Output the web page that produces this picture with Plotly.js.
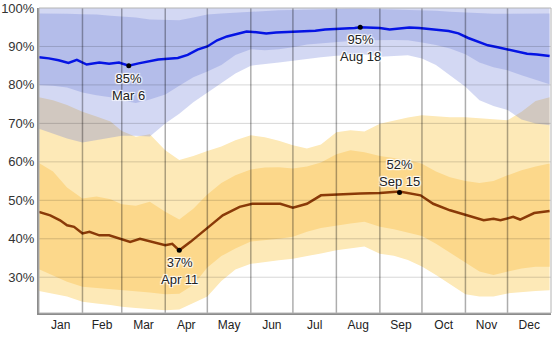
<!DOCTYPE html>
<html><head><meta charset="utf-8">
<script src="https://cdn.plot.ly/plotly-3.0.1.min.js"></script>
<style>html,body{margin:0;padding:0;background:#fff}#chart{width:555px;height:347px}</style>
</head><body><div id="chart"></div>
<script>
// ---- data (relative humidity, %) ----
const bandDates = ['2013-01-01','2013-01-11','2013-01-21','2013-02-01','2013-02-11','2013-02-21','2013-03-01','2013-03-11','2013-03-21','2013-04-01','2013-04-11','2013-04-21','2013-05-01','2013-05-11','2013-05-21','2013-06-01','2013-06-11','2013-06-21','2013-07-01','2013-07-11','2013-07-21','2013-08-01','2013-08-11','2013-08-21','2013-09-01','2013-09-11','2013-09-21','2013-10-01','2013-10-11','2013-10-21','2013-11-01','2013-11-11','2013-11-21','2013-12-01','2013-12-11','2013-12-21','2013-12-31'];

// daily high humidity percentiles
const highP90 = [100,100,100,100,100,100,100,100,100,100,100,100,100,100,100,100,100,100,100,100,100,100,100,100,100,100,100,100,100,100,100,100,100,100,100,100,100];
const highP75 = [98.6,98.6,98.5,98.4,98.3,98.0,97.8,97.5,97.0,96.8,96.8,97.5,98.3,98.6,98.8,99.2,99.3,99.4,99.5,99.6,99.7,99.8,99.8,99.8,99.7,99.7,99.6,99.5,99.3,99.0,98.8,98.6,98.5,98.5,98.5,98.6,98.6];
const highP25 = [80.0,79.8,79.3,78.0,77.3,76.8,76.0,75.3,76.2,77.5,79.8,82.0,83.5,85.2,87.8,89.3,89.0,89.3,89.8,90.5,90.8,91.1,91.4,91.6,91.7,91.7,91.6,91.0,90.4,89.5,88.0,85.8,84.6,83.8,82.5,81.3,80.2];
const highP10 = [68.6,67.3,66.1,65.0,65.5,66.3,66.8,66.8,66.6,70.0,72.5,75.5,77.8,80.5,83.0,85.0,85.4,85.8,86.3,86.8,87.2,87.6,87.8,87.9,87.3,87.5,87.7,86.9,85.2,82.5,79.5,76.0,74.5,73.5,71.0,70.0,69.5];

// daily low humidity percentiles
const lowP90 = [76.8,76.0,74.8,73.0,71.8,70.5,68.0,66.5,67.2,63.0,60.5,61.5,62.8,64.0,65.6,66.9,66.4,65.5,64.3,63.5,64.5,67.7,68.2,67.9,69.9,70.8,71.5,72.1,71.8,71.6,71.6,71.3,71.0,70.8,73.0,75.8,76.8];
const lowP75 = [59.7,57.5,53.3,50.5,51.0,50.3,49.0,48.6,49.6,47.0,45.0,47.8,51.5,54.5,56.5,58.0,58.5,58.6,58.3,58.8,59.8,62.0,63.0,62.5,61.5,61.0,60.5,59.5,57.5,56.0,55.0,54.5,55.0,56.5,57.8,58.8,59.6];
const lowP25 = [32.1,30.5,28.8,27.5,27.1,26.9,26.6,26.3,26.0,25.6,25.7,28.0,32.5,35.5,37.5,39.3,39.7,40.0,40.5,41.8,42.8,43.5,44.0,44.4,43.1,42.5,41.7,40.7,38.7,36.5,33.8,31.5,30.6,31.5,32.3,32.7,32.7];
const lowP10 = [26.4,25.6,25.0,23.6,23.2,22.8,22.3,22.0,21.8,21.4,21.6,23.2,25.0,29.0,32.0,33.5,34.0,34.4,34.8,35.5,36.2,37.0,37.5,38.0,36.1,35.6,34.5,32.8,30.6,28.3,25.6,25.0,25.0,25.8,26.1,26.4,26.6];

// median daily high humidity
const highDates = ['2013-01-01','2013-01-08','2013-01-15','2013-01-22','2013-01-28','2013-02-04','2013-02-13','2013-02-20','2013-02-27','2013-03-06','2013-03-13','2013-03-20','2013-03-27','2013-04-03','2013-04-10','2013-04-17','2013-04-24','2013-05-01','2013-05-08','2013-05-15','2013-05-22','2013-05-29','2013-06-05','2013-06-12','2013-06-19','2013-06-26','2013-07-03','2013-07-10','2013-07-17','2013-07-24','2013-07-31','2013-08-07','2013-08-14','2013-08-18','2013-08-25','2013-09-01','2013-09-08','2013-09-15','2013-09-22','2013-09-29','2013-10-06','2013-10-13','2013-10-20','2013-10-27','2013-11-03','2013-11-10','2013-11-17','2013-11-24','2013-12-01','2013-12-08','2013-12-15','2013-12-22','2013-12-31'];
const highMedian = [87.2,86.9,86.4,85.7,86.5,85.3,85.8,85.5,85.8,85.0,85.6,86.2,86.6,86.8,87.0,87.8,89.2,90.0,91.6,92.6,93.3,93.9,93.7,93.4,93.6,93.7,93.8,94.0,94.1,94.4,94.5,94.7,94.8,95.0,94.9,94.8,94.4,94.6,94.9,94.8,94.6,94.3,94.0,93.4,92.2,91.2,90.3,89.8,89.2,88.6,88.1,87.9,87.5];

// median daily low humidity
const lowDates = ['2013-01-01','2013-01-09','2013-01-16','2013-01-21','2013-01-26','2013-02-01','2013-02-06','2013-02-13','2013-02-20','2013-02-28','2013-03-07','2013-03-14','2013-03-21','2013-04-01','2013-04-06','2013-04-11','2013-04-19','2013-04-26','2013-05-05','2013-05-12','2013-05-24','2013-06-02','2013-06-12','2013-06-22','2013-07-01','2013-07-11','2013-07-21','2013-08-04','2013-08-18','2013-09-01','2013-09-15','2013-09-30','2013-10-09','2013-10-21','2013-11-02','2013-11-14','2013-11-21','2013-11-26','2013-12-05','2013-12-10','2013-12-20','2013-12-31'];
const lowMedian = [47.0,46.1,44.8,43.5,43.1,41.4,41.8,40.9,40.9,40.0,39.2,40.0,39.3,38.3,38.7,37.0,39.2,41.2,44.0,46.1,48.3,49.1,49.1,49.1,48.1,49.1,51.3,51.6,51.8,51.9,52.3,51.3,49.1,47.4,46.1,44.8,45.2,44.8,45.7,45.0,46.7,47.2];

// labelled extremes
const extremeDates  = ['2013-03-06','2013-08-18','2013-04-11','2013-09-15'];
const extremeValues = [85,95,37,52];
const extremeLabels = ['85%<br>Mar 6','95%<br>Aug 18','37%<br>Apr 11','52%<br>Sep 15'];
const extremeAbove  = [false,false,false,true];

// axes
const monthStarts = ['2013-02-01','2013-03-01','2013-04-01','2013-05-01','2013-06-01','2013-07-01','2013-08-01','2013-09-01','2013-10-01','2013-11-01','2013-12-01'];
const yGrid = [30,40,50,60,70,80,90];
const yTicks = [30,40,50,60,70,80,90,100];
const yTickText = ['30%','40%','50%','60%','70%','80%','90%','100%'];

// ---- build ----
function band(lower, upper, color){
  return {x: bandDates.concat(bandDates.slice().reverse()),
          y: upper.concat(lower.slice().reverse()),
          type:'scatter', mode:'lines', fill:'toself', fillcolor: color,
          line:{width:0, color:color}, hoverinfo:'skip', showlegend:false};
}
const blueFill = 'rgba(108,126,214,0.3)';
const traces = [
  band(lowP10, lowP90, '#fde9b7'),
  band(lowP25, lowP75, '#fcd88b'),
  band(highP10, highP90, blueFill),
  band(highP25, highP75, blueFill),
  {x: highDates, y: highMedian, type:'scatter', mode:'lines', line:{color:'#0514e4', width:2.5}, showlegend:false},
  {x: lowDates, y: lowMedian, type:'scatter', mode:'lines', line:{color:'#8a3a08', width:2.5}, showlegend:false},
  {x: extremeDates, y: extremeValues, type:'scatter', mode:'markers', marker:{color:'#000', size:5}, showlegend:false}
];

const shapes = [];
monthStarts.forEach(d => shapes.push({type:'line', xref:'x', yref:'paper', x0:d, x1:d, y0:0, y1:1, layer:'above', line:{color:'rgba(0,0,0,0.32)', width:1.5}}));
yGrid.forEach(v => shapes.push({type:'line', xref:'paper', yref:'y', x0:0, x1:1, y0:v, y1:v, layer:'above', line:{color:'rgba(0,0,0,0.16)', width:1}}));
shapes.push({type:'rect', xref:'paper', yref:'paper', x0:0, x1:1, y0:0, y1:1, layer:'above', line:{color:'#b4b4b4', width:1}});

const halo = '-1px -1px 1px #fff, 1px -1px 1px #fff, -1px 1px 1px #fff, 1px 1px 1px #fff, 0 0 2px #fff';
const annotations = extremeDates.map((d,i) => ({
  x: d, y: extremeValues[i], xref:'x', yref:'y', text: extremeLabels[i], showarrow:false,
  xanchor:'center', yanchor: extremeAbove[i] ? 'bottom' : 'top', yshift: extremeAbove[i] ? 2 : -3,
  align:'center', font:{family:'Liberation Sans, Arial, sans-serif', size:13, color:'#222', shadow: halo}
}));

const layout = {
  width:555, height:347,
  margin:{l:39, r:4, t:8, b:34},
  paper_bgcolor:'#fff', plot_bgcolor:'#fff',
  showlegend:false,
  font:{family:'Liberation Sans, Arial, sans-serif', size:12, color:'#333'},
  xaxis:{type:'date', range:['2013-01-01','2014-01-01'], tick0:'2013-01-01', dtick:'M1', tickformat:'%b',
         ticklabelmode:'period', showgrid:false, zeroline:false, ticks:'', showline:true, linecolor:'#8c8c8c', linewidth:2,
         tickfont:{size:12, color:'#222'}, fixedrange:true},
  yaxis:{range:[20.7,100], tickvals:yTicks, ticktext:yTickText, showgrid:false, zeroline:false, ticks:'',
         showline:true, linecolor:'#8c8c8c', linewidth:2, tickfont:{size:13, color:'#333'}, fixedrange:true},
  shapes: shapes,
  annotations: annotations
};
Plotly.newPlot('chart', traces, layout, {staticPlot:true, displayModeBar:false});
</script>
</body></html>
